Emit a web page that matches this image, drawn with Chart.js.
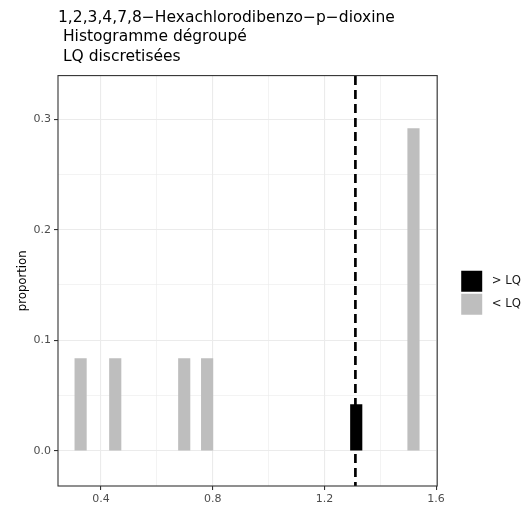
<!DOCTYPE html>
<html>
<head>
<meta charset="utf-8">
<script src="https://cdn.jsdelivr.net/npm/chart.js@4"></script>
<style>
  html, body { margin: 0; padding: 0; background: #fff; }
  #wrap { width: 530px; height: 511px; }
</style>
</head>
<body>
<div id="wrap"><canvas id="myChart"></canvas></div>
<script>
// values
const titleLines = ['1,2,3,4,7,8\u2212Hexachlorodibenzo\u2212p\u2212dioxine', ' Histogramme dégroupé', ' LQ discretisées'];
const belowLQ_x = [0.327, 0.451, 0.698, 0.780, 1.519];
const belowLQ_y = [0.0833, 0.0833, 0.0833, 0.0833, 0.2917];
const aboveLQ_x = [1.314];
const aboveLQ_y = [0.0417];
const lqValue = 1.311;
const xMajor = [0.4, 0.8, 1.2, 1.6];
const xMinor = [0.6, 1.0, 1.4];
const yMajor = [0.0, 0.1, 0.2, 0.3];
const yMinor = [0.05, 0.15, 0.25];

const font = "'DejaVu Sans', 'Liberation Sans', sans-serif";

function isMajor(arr, c) {
  if (!c.tick) return false;
  return arr.some(a => Math.abs(a - c.tick.value) < 1e-6);
}

// ggplot-like panel border + legend moved away from the panel
const panelBorder = {
  id: 'panelBorder',
  afterLayout(chart) {
    const l = chart.legend;
    l.left += 22; l.right += 22;
    l.top += 12; l.bottom += 12;
  },
  afterDraw(chart) {
    const a = chart.chartArea;
    const c = chart.ctx;
    c.save();
    c.strokeStyle = '#333333';
    c.lineWidth = 1.1;
    c.strokeRect(a.left, a.top, a.right - a.left, a.bottom - a.top);
    c.restore();
  }
};

const ctx = document.getElementById('myChart').getContext('2d');
const config = {
  type: 'bar',
  data: {
    datasets: [
      {
        type: 'line',
        label: 'LQ',
        data: [{x: lqValue, y: -0.1}, {x: lqValue, y: 0.5}],
        borderColor: '#000000',
        borderWidth: 2.7,
        borderDash: [9, 5],
        pointRadius: 0,
        order: 0
      },
      {
        label: ' > LQ',
        data: aboveLQ_x.map((x, i) => ({x: x, y: aboveLQ_y[i]})),
        backgroundColor: '#000000',
        order: 1
      },
      {
        label: ' < LQ',
        data: belowLQ_x.map((x, i) => ({x: x, y: belowLQ_y[i]})),
        backgroundColor: '#bebebe',
        order: 2
      }
    ]
  },
  options: {
    responsive: true,
    maintainAspectRatio: false,
    animation: false,
    layout: { padding: { left: 0, right: 21, top: 0, bottom: 0 } },
    datasets: { bar: { barThickness: 11.5, grouped: false } },
    plugins: {
      title: {
        display: true,
        text: titleLines,
        align: 'start',
        fullSize: false,
        color: '#000000',
        font: { family: font, size: 15.5, weight: 'normal', lineHeight: 1.26 },
        padding: { top: 8, bottom: 9 }
      },
      legend: {
        display: true,
        position: 'right',
        fullSize: false,
        labels: {
          filter: item => item.text !== 'LQ',
          boxWidth: 21,
          boxHeight: 21,
          padding: 2,
          color: '#1a1a1a',
          font: { family: font, size: 11.7 }
        }
      },
      tooltip: { enabled: false }
    },
    scales: {
      x: {
        type: 'linear',
        min: 0.246,
        max: 1.604,
        offset: false,
        afterBuildTicks: s => { s.ticks = xMajor.concat(xMinor).sort((a, b) => a - b).map(v => ({value: v})); },
        afterFit: s => { s.height = 25; },
        border: { display: false },
        grid: {
          offset: false,
          color: '#ebebeb',
          lineWidth: c => isMajor(xMajor, c) ? 1.1 : 0.6,
          tickColor: c => isMajor(xMajor, c) ? '#333333' : 'rgba(0,0,0,0)',
          tickLength: 4
        },
        ticks: {
          autoSkip: false,
          maxRotation: 0,
          padding: 3,
          color: '#4d4d4d',
          font: { family: font, size: 11 },
          callback: v => xMajor.some(a => Math.abs(a - v) < 1e-6) ? v.toFixed(1) : ''
        }
      },
      y: {
        type: 'linear',
        min: -0.032,
        max: 0.3396,
        afterBuildTicks: s => { s.ticks = yMajor.concat(yMinor).sort((a, b) => a - b).map(v => ({value: v})); },
        afterFit: s => { s.width = 58; },
        border: { display: false },
        grid: {
          offset: false,
          color: '#ebebeb',
          lineWidth: c => isMajor(yMajor, c) ? 1.1 : 0.6,
          tickColor: c => isMajor(yMajor, c) ? '#333333' : 'rgba(0,0,0,0)',
          tickLength: 4
        },
        ticks: {
          autoSkip: false,
          padding: 3,
          color: '#4d4d4d',
          font: { family: font, size: 11 },
          callback: v => yMajor.some(a => Math.abs(a - v) < 1e-6) ? v.toFixed(1) : ''
        },
        title: {
          display: true,
          text: 'proportion',
          color: '#000000',
          font: { family: font, size: 11.7 },
          padding: { top: 15.5, bottom: 0 }
        }
      }
    }
  },
  plugins: [panelBorder]
};

var myChart = new Chart(ctx, config);
</script>
</body>
</html>
